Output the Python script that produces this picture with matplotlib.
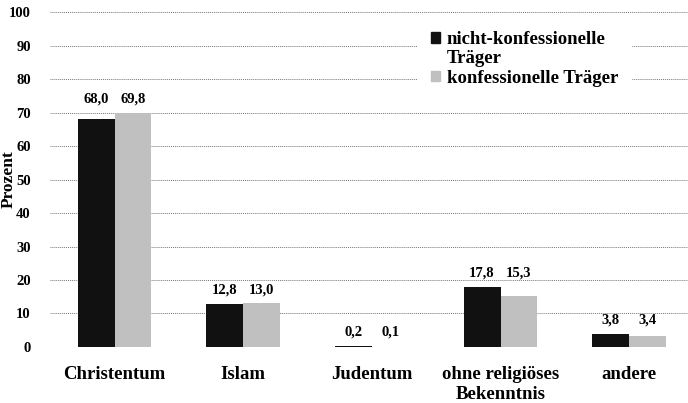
import matplotlib
matplotlib.use("Agg")
import matplotlib.pyplot as plt
from matplotlib.patches import Patch
import numpy as np

plt.rcParams['font.family'] = ['Liberation Serif', 'DejaVu Serif']
plt.rcParams['font.weight'] = 'bold'

categories = ['Christentum', 'Islam', 'Judentum', 'ohne religiöses\nBekenntnis', 'andere']
nicht_konf = [68.0, 12.8, 0.2, 17.8, 3.8]
konf = [69.8, 13.0, 0.1, 15.3, 3.4]
series_names = ['nicht-konfessionelle\nTräger', 'konfessionelle Träger']
yticks = list(range(0, 101, 10))

black = '#111111'
gray = '#c0c0c0'

fig = plt.figure(figsize=(6.88, 4.03), dpi=100)
ax = fig.add_axes([0.073, 0.139, 0.935, 0.831])

x = np.arange(len(categories))
w = 0.287
ax.bar(x - w / 2, nicht_konf, w, color=black, zorder=3)
ax.bar(x + w / 2, konf, w, color=gray, zorder=3)

# labels sit on a common height per group
for i, (a, b) in enumerate(zip(nicht_konf, konf)):
    top = max(a, b) + 2.2
    for xx, v in ((x[i] - w / 2, a), (x[i] + w / 2, b)):
        ax.text(xx, top, f'{v:.1f}'.replace('.', ','), ha='center', va='bottom',
                fontsize=10.5, fontweight='bold')

ax.set_xlim(-0.5, 4.5)
ax.set_ylim(0, 100)
ax.set_yticks(yticks)
ax.set_yticklabels([str(t) for t in yticks], fontsize=10.5, fontweight='bold')
ax.set_xticks(x)
ax.set_xticklabels(categories, fontsize=13.5, fontweight='bold', linespacing=1.2)
ax.tick_params(length=0)
ax.tick_params(axis='y', pad=14)
ax.tick_params(axis='x', pad=14)
ax.set_ylabel('Prozent', fontsize=12.5, fontweight='bold')
ax.yaxis.set_label_coords(-0.052, 0.5)

for s in ax.spines.values():
    s.set_visible(False)
ax.grid(axis='y', linestyle=(0, (1, 1)), color='#777777', linewidth=0.7, zorder=0)

# first label is split so its marker sits on the first line
first, second = series_names[0].split('\n')
handles = [Patch(color=black), Patch(color='none'), Patch(color=gray)]
labels = [first, second, series_names[1]]
leg = ax.legend(handles, labels, loc='upper left', bbox_to_anchor=(0.557, 1.01), frameon=True,
                fontsize=13.5, handlelength=0.5, handleheight=0.5, handletextpad=0.35,
                labelspacing=0.12, borderpad=0.7)
leg.get_frame().set_edgecolor('white')
leg.get_frame().set_facecolor('white')
leg.get_frame().set_alpha(1)
leg.get_frame().set_boxstyle('square', pad=0)

fig.savefig('out.png', dpi=100)
